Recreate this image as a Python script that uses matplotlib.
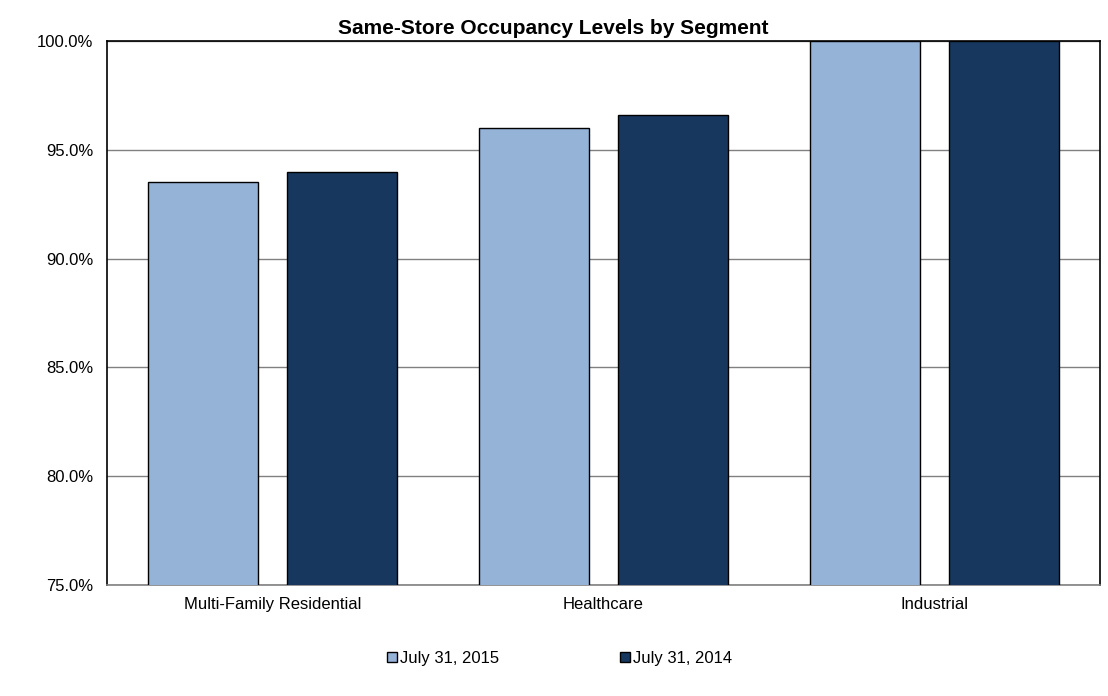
import numpy as np
import matplotlib.pyplot as plt
from matplotlib.ticker import FuncFormatter

plt.rcParams['font.family'] = ['Liberation Sans', 'DejaVu Sans']

segments = ['Multi-Family Residential', 'Healthcare', 'Industrial']
occ_2015 = [93.5, 96.0, 100.0]
occ_2014 = [94.0, 96.6, 100.0]
series_labels = ['July 31, 2015', 'July 31, 2014']

fig = plt.figure(figsize=(11.08, 6.96), dpi=100)
ax = fig.add_axes([0.0966, 0.1595, 0.8962, 0.7816])

x = np.arange(len(segments))
w = 0.335
off = 0.21
b1 = ax.bar(x - off, occ_2015, w, color='#95b3d7', edgecolor='black', linewidth=1, label=series_labels[0], zorder=3)
b2 = ax.bar(x + off, occ_2014, w, color='#17375e', edgecolor='black', linewidth=1, label=series_labels[1], zorder=3)

ax.set_xlim(-0.5, len(segments) - 0.5)
ax.set_ylim(75, 100)
ax.set_yticks(np.arange(75, 100.1, 5))
ax.yaxis.set_major_formatter(FuncFormatter(lambda v, p: '%.1f%%' % v))
ax.set_xticks(x)
ax.set_xticklabels(segments)
ax.tick_params(axis='both', length=0, labelsize=12, colors='#000000')
ax.tick_params(axis='y', pad=10)
ax.tick_params(axis='x', pad=9)
ax.grid(axis='y', color='#808080', linewidth=1, zorder=0)
for s in ['top', 'right', 'left']:
    ax.spines[s].set_color('black')
    ax.spines[s].set_linewidth(1.2)
ax.spines['bottom'].set_color('#808080')
ax.spines['bottom'].set_linewidth(1.2)

# title is centred on the figure, not the axes
fig.text(553 / 1108, 1 - 29 / 696, 'Same-Store Occupancy Levels by Segment', fontsize=15,
         fontweight='bold', ha='center', va='center')

fig.legend(handles=[b1, b2], loc='center', bbox_to_anchor=(0.505, 0.054), ncol=2, frameon=False,
           fontsize=12, handlelength=0.6, handleheight=0.6, handletextpad=0.2, columnspacing=7.2)

fig.savefig('out.png', dpi=100)
